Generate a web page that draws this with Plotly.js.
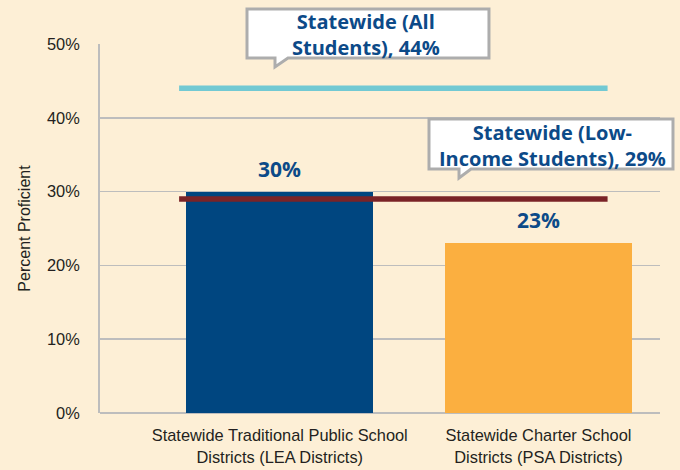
<!DOCTYPE html>
<html>
<head>
<meta charset="utf-8">
<script src="https://cdn.plot.ly/plotly-3.0.1.min.js"></script>
<style>html,body{margin:0;padding:0;background:#fdefd6;}</style>
</head>
<body>
<div id="chart" style="width:680px;height:470px;"></div>
<script>
// ---- data ----
const categories = ["Statewide Traditional Public School<br>Districts (LEA Districts)", "Statewide Charter School<br>Districts (PSA Districts)"];
const values = [30, 23];
const valueLabels = ["30%", "23%"];
const barColors = ["#004680", "#fbaf40"];
const refNames = ["Statewide (All<br>Students), 44%", "Statewide (Low-<br>Income Students), 29%"];
const refValues = [44, 29];
const refColors = ["#72c9d3", "#7a2327"];
const yTicks = [0, 10, 20, 30, 40, 50];
const yTickText = ["0%", "10%", "20%", "30%", "40%", "50%"];

// ---- layout helpers ----
const W = 680, H = 470;
const M = {l: 100, r: 20, t: 44, b: 57};
const PW = W - M.l - M.r, PH = H - M.t - M.b;
const px = x => (x - M.l) / PW;           // pixel -> paper x
const py = y => (H - M.b - y) / PH;        // pixel -> paper y
const navy = "#0c4a88";
const plain = "'Liberation Sans', Arial, sans-serif";
const boldFont = "'Open Sans', Lato, sans-serif";

function bubble(x0, y0, x1, y1, tx, tipY, tx2) {
  const P = (x, y) => px(x).toFixed(4) + "," + py(y).toFixed(4);
  return "M" + P(x0, y0) + " L" + P(x1, y0) + " L" + P(x1, y1) + " L" + P(tx2, y1) +
         " L" + P(tx, tipY) + " L" + P(tx, y1) + " L" + P(x0, y1) + " Z";
}

const trace = {
  type: "bar",
  x: categories,
  y: values,
  width: 0.7227,
  marker: {color: barColors},
  hoverinfo: "skip"
};

const shapes = [];
// reference lines (data-driven y)
refValues.forEach((v, i) => {
  shapes.push({type: "line", xref: "x", yref: "y", x0: -0.389, x1: 1.267, y0: v, y1: v,
               line: {color: refColors[i], width: 5.5}, layer: "above"});
});
// callout bubbles
const boxes = [
  {x0: 247, y0: 9, x1: 489, y1: 58, tx: 275, tip: 67, tx2: 288, cx: 366, cy: 35},
  {x0: 429, y0: 119, x1: 673, y1: 169, tx: 459, tip: 178, tx2: 471, cx: 552, cy: 145}
];
boxes.forEach(b => {
  shapes.push({type: "path", xref: "paper", yref: "paper",
               path: bubble(b.x0, b.y0, b.x1, b.y1, b.tx, b.tip, b.tx2),
               fillcolor: "#ffffff", line: {color: "#adadad", width: 3}, layer: "above"});
});

const annotations = [];
values.forEach((v, i) => {
  annotations.push({x: categories[i], y: v, xref: "x", yref: "y", text: "<b>" + valueLabels[i] + "</b>",
    showarrow: false, yanchor: "bottom", yshift: 7,
    font: {family: boldFont, size: 21, color: navy}});
});
refNames.forEach((t, i) => {
  const b = boxes[i];
  annotations.push({x: px(b.cx), y: py(b.cy), xref: "paper", yref: "paper",
    text: "<b>" + t + "</b>", showarrow: false, xanchor: "center", yanchor: "middle",
    font: {family: boldFont, size: 20, color: navy}});
});

const layout = {
  width: W, height: H,
  margin: M,
  paper_bgcolor: "#fdefd6",
  plot_bgcolor: "#fdefd6",
  showlegend: false,
  bargap: 0,
  xaxis: {
    type: "category",
    range: [-0.6947, 1.4696],
    showgrid: false, zeroline: false, showline: false,
    tickfont: {family: plain, size: 16.4, color: "#231f20"},
    ticks: "", ticklabelstandoff: 11, fixedrange: true
  },
  yaxis: {
    range: [0, 50],
    tickmode: "array",
    tickvals: yTicks,
    ticktext: yTickText,
    showgrid: true, gridcolor: "#bdbdbd", gridwidth: 1.5,
    zeroline: true, zerolinecolor: "#bdbdbd", zerolinewidth: 2,
    showline: true, linecolor: "#bdbdbd", linewidth: 2,
    ticks: "", ticklabelstandoff: 15,
    tickfont: {family: plain, size: 16.4, color: "#231f20"},
    title: {text: "Percent Proficient", font: {family: plain, size: 16, color: "#231f20"}, standoff: 12},
    fixedrange: true
  },
  shapes: shapes,
  annotations: annotations
};

Plotly.newPlot("chart", [trace], layout, {displayModeBar: false, staticPlot: true});
</script>
</body>
</html>
